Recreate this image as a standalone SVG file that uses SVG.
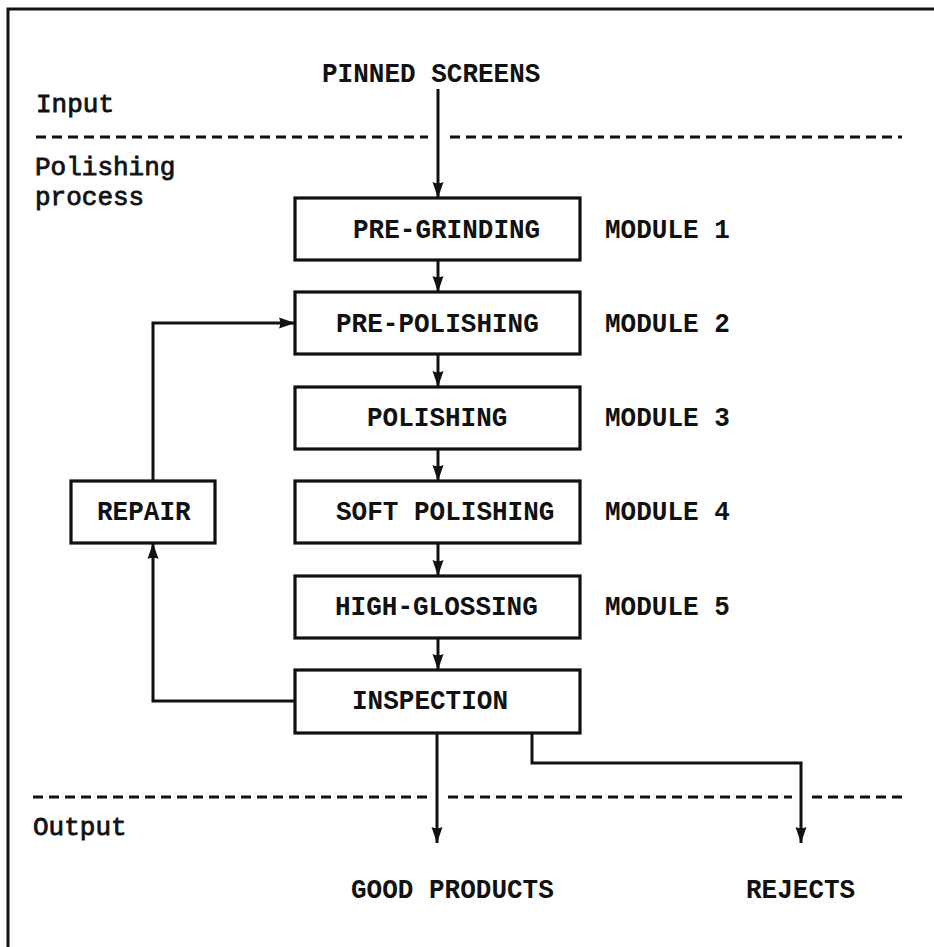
<svg xmlns="http://www.w3.org/2000/svg" width="934" height="947" viewBox="0 0 934 947">
  <style>
    .frame { fill: none; stroke: #111; stroke-width: 3; }
    .box { fill: #fff; stroke: #111; stroke-width: 3.2; }
    .conn { fill: none; stroke: #111; stroke-width: 3; }
    .dash { fill: none; stroke: #111; stroke-width: 3; stroke-dasharray: 10 6; }
    text { font-family: "Liberation Mono", "Courier New", monospace; font-size: 28.5px; font-weight: bold; fill: #111; }
    .lbl { font-size: 26px; font-weight: normal; stroke: #111; stroke-width: 0.8; }
  </style>
  <defs>
    <marker id="arrow" viewBox="0 0 16 12" refX="16" refY="6" markerWidth="16" markerHeight="12" markerUnits="userSpaceOnUse" orient="auto">
      <path d="M0,0.5 L16,6 L0,11.5 Q2.5,6 0,0.5 z" fill="#111"/>
    </marker>
  </defs>

  <rect width="934" height="947" fill="#fff"/>

  <!-- page frame, open to the right and bottom edges -->
  <path class="frame" d="M8,960 V9 H940"/>

  <!-- zone separators -->
  <g id="separators">
    <path class="dash" d="M36,137 H428 M450,137 H902"/>
    <path class="dash" d="M33,797 H428 M448,797 H792 M812,797 H902"/>
  </g>

  <!-- zone labels -->
  <g id="zone-labels">
    <text class="lbl" x="36" y="112">Input</text>
    <text class="lbl" x="35" y="175">Polishing</text>
    <text class="lbl" x="35" y="205">process</text>
    <text class="lbl" x="33" y="835">Output</text>
  </g>

  <!-- connectors -->
  <g id="connectors">
    <path class="conn" d="M438,89 V198" marker-end="url(#arrow)"/>
    <path class="conn" d="M438,261 V292" marker-end="url(#arrow)"/>
    <path class="conn" d="M438,354 V387" marker-end="url(#arrow)"/>
    <path class="conn" d="M438,449 V481" marker-end="url(#arrow)"/>
    <path class="conn" d="M438,543 V576" marker-end="url(#arrow)"/>
    <path class="conn" d="M438,638 V670" marker-end="url(#arrow)"/>
    <path class="conn" d="M295,701 H153 V543" marker-end="url(#arrow)"/>
    <path class="conn" d="M153,481 V323 H295" marker-end="url(#arrow)"/>
    <path class="conn" d="M437,733 V843" marker-end="url(#arrow)"/>
    <path class="conn" d="M532,733 V763 H801 V843" marker-end="url(#arrow)"/>
  </g>

  <g id="input">
    <text x="322" y="82" textLength="218.4" lengthAdjust="spacingAndGlyphs">PINNED SCREENS</text>
  </g>

  <g id="pre-grinding">
    <rect class="box" x="295" y="198" width="285" height="62"/>
    <text x="353" y="238" textLength="187.2" lengthAdjust="spacingAndGlyphs">PRE-GRINDING</text>
    <text x="605" y="238" textLength="124.8" lengthAdjust="spacingAndGlyphs">MODULE 1</text>
  </g>

  <g id="pre-polishing">
    <rect class="box" x="295" y="292" width="285" height="62"/>
    <text x="336" y="332" textLength="202.8" lengthAdjust="spacingAndGlyphs">PRE-POLISHING</text>
    <text x="605" y="332" textLength="124.8" lengthAdjust="spacingAndGlyphs">MODULE 2</text>
  </g>

  <g id="polishing">
    <rect class="box" x="295" y="387" width="285" height="62"/>
    <text x="367" y="426" textLength="140.4" lengthAdjust="spacingAndGlyphs">POLISHING</text>
    <text x="605" y="426" textLength="124.8" lengthAdjust="spacingAndGlyphs">MODULE 3</text>
  </g>

  <g id="soft-polishing">
    <rect class="box" x="295" y="481" width="285" height="62"/>
    <text x="336" y="520" textLength="218.4" lengthAdjust="spacingAndGlyphs">SOFT POLISHING</text>
    <text x="605" y="520" textLength="124.8" lengthAdjust="spacingAndGlyphs">MODULE 4</text>
  </g>

  <g id="high-glossing">
    <rect class="box" x="295" y="576" width="285" height="62"/>
    <text x="335" y="615" textLength="202.8" lengthAdjust="spacingAndGlyphs">HIGH-GLOSSING</text>
    <text x="605" y="615" textLength="124.8" lengthAdjust="spacingAndGlyphs">MODULE 5</text>
  </g>

  <g id="inspection">
    <rect class="box" x="295" y="670" width="285" height="63"/>
    <text x="352" y="709" textLength="156" lengthAdjust="spacingAndGlyphs">INSPECTION</text>
  </g>

  <g id="repair">
    <rect class="box" x="71" y="481" width="144" height="62"/>
    <text x="97" y="520" textLength="93.6" lengthAdjust="spacingAndGlyphs">REPAIR</text>
  </g>

  <g id="good-products">
    <text x="351" y="898" textLength="202.8" lengthAdjust="spacingAndGlyphs">GOOD PRODUCTS</text>
  </g>

  <g id="rejects">
    <text x="746" y="898" textLength="109.2" lengthAdjust="spacingAndGlyphs">REJECTS</text>
  </g>
</svg>
